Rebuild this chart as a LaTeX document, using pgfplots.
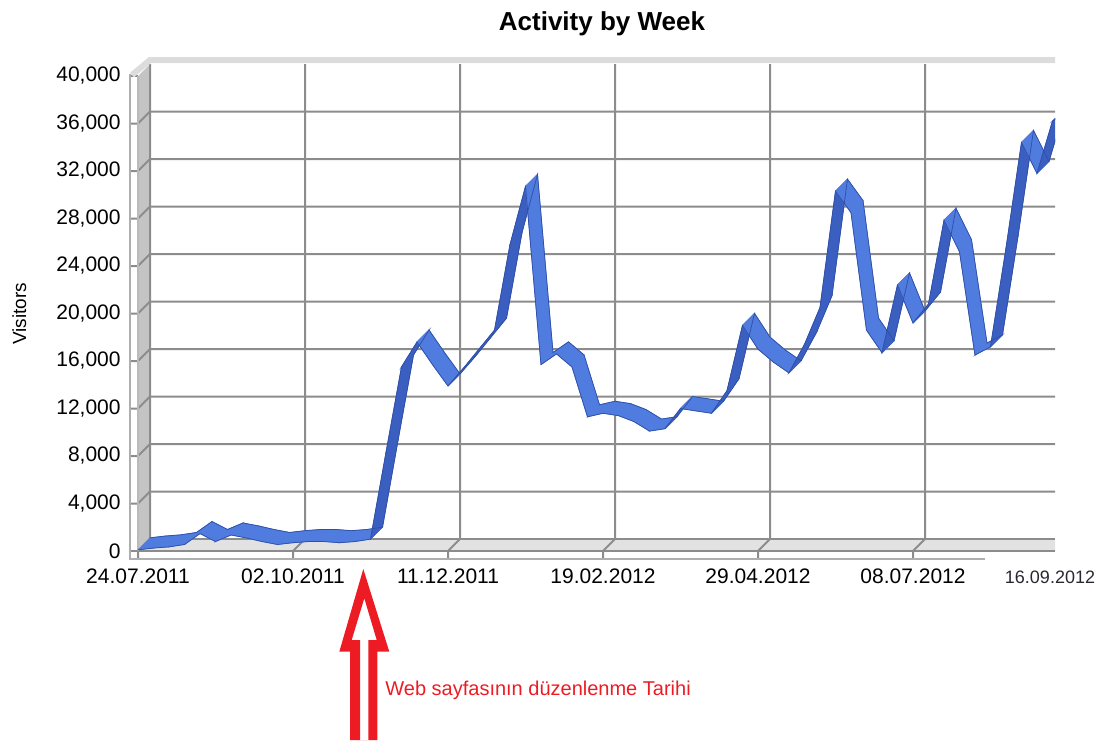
\documentclass[border=0pt]{standalone}
\usepackage{fontspec}
\setmainfont{Liberation Sans}
\usepackage{pgfplots}
\pgfplotsset{compat=1.18}
\usepackage{pgfplotstable}
\definecolor{ribL}{RGB}{79,124,222}
\definecolor{ribD}{RGB}{58,95,192}
\definecolor{ribE}{RGB}{48,78,165}
\definecolor{gridc}{RGB}{140,140,140}
\definecolor{wallc}{RGB}{196,196,196}
\definecolor{floorc}{RGB}{226,226,226}
\definecolor{bandc}{RGB}{220,220,220}
\definecolor{arrowred}{RGB}{237,28,36}

% week index (0 = 24.07.2011), weekly visitors, c = 1 for faces seen from below (steep rise)
\pgfplotstableread{
w v c
0 100 0
1 250 0
2 350 0
3 550 0
4 1470 0
5 800 0
6 1350 0
7 1100 0
8 800 0
9 550 0
10 700 0
11 800 0
12 800 0
13 700 0
14 800 0
15 1000 1
16 8300 1
17 15500 1
18 17600 0
19 15700 0
20 13900 1
21 15400 1
22 17000 1
23 18600 1
24 25800 1
25 30700 0
26 15700 0
27 16600 0
28 15500 0
29 11300 0
30 11600 0
31 11400 0
32 10900 0
33 10100 0
34 10300 1
35 12000 0
36 11800 0
37 11600 1
38 13500 1
39 19000 0
40 17000 0
41 15900 0
42 15000 1
43 17400 1
44 20500 1
45 30300 0
46 28500 0
47 18600 0
48 16700 1
49 22400 0
50 19200 1
51 20800 1
52 27850 0
53 25200 0
54 16500 0
55 17200 1
56 25500 1
57 34400 0
58 31800 1
59 36200 1
60 37000 0
}\visits
\pgfplotstablevertcat{\ribbon}{\visits}
\pgfplotstablevertcat{\ribbon}{\visits}

\begin{document}
\begin{tikzpicture}
\begin{scope}[x=0.5pt,y=-0.5pt]
\useasboundingbox (0,0) rectangle (1104,729);
% floor and left wall
\fill[floorc] (138,551) -- (150,539) -- (1055,539) -- (1055,551) -- cycle;
\fill[wallc] (138,551) -- (150,539) -- (150,64) -- (138,76) -- cycle;
% horizontal grid on the wall
\foreach \k in {1,...,9} {
  \pgfmathsetmacro\yf{551-47.5*\k}
  \pgfmathsetmacro\yb{539-47.5*\k}
  \draw[gridc, line width=1pt] (130,\yf) -- (138,\yf) -- (150,\yb) -- (1055,\yb);
}
\draw[gridc, line width=1pt] (130,76) -- (138,76);
\draw[gridc, line width=1pt] (130,551) -- (1055,551);
\draw[gridc, line width=0.8pt] (150,539) -- (1055,539);
% vertical grid
\foreach \j in {0,...,5} {
  \pgfmathsetmacro\xf{138+155*\j}
  \pgfmathsetmacro\xb{150+155*\j}
  \draw[gridc, line width=1pt] (\xf,559) -- (\xf,551) -- (\xb,539) -- (\xb,64);
}
% top band
\draw[bandc, line width=3pt] (132,75) -- (150,60) -- (1055,60);
% axis lines
\draw[gridc!70, line width=1pt] (130,74) -- (130,559) -- (985,559);
\draw[gridc!60, line width=0.6pt] (138,76) -- (138,551);
\end{scope}

\begin{axis}[
  at={(65pt,-279.5pt)}, anchor=south west,
  scale only axis, width=462.5pt, height=251pt,
  xmin=-0.516129, xmax=59.16129,
  ymin=-673.68, ymax=41600,
  axis line style={draw=none},
  xtick style={draw=none}, ytick style={draw=none},
  major tick length=0pt,
  xtick={0,10,20,30,40,50},
  xticklabels={24.07.2011,02.10.2011,11.12.2011,19.02.2012,29.04.2012,08.07.2012},
  ytick={0,4000,...,40000},
  scaled y ticks=false,
  /pgf/number format/1000 sep={,},
  /pgf/number format/assume math mode=true,
  xticklabel style={font=\fontsize{10.5}{12}\selectfont, anchor=north, inner sep=0pt, yshift=-4.5pt},
  yticklabel style={font=\fontsize{10.5}{12}\selectfont, anchor=east, inner sep=0pt, xshift=-4.5pt},
  colormap={rib}{color(0cm)=(ribL) color(1cm)=(ribD)},
  point meta min=0, point meta max=1,
  clip=true,
]
\addplot[surf, shader=flat corner, mesh/cols=61, point meta=\thisrow{c}]
  table[x expr={\thisrow{w}+0.774194*(\coordindex>60)},
        y expr={\thisrow{v}+1010.526*(\coordindex>60)}] {\ribbon};
\addplot[ribE, line width=0.35pt, forget plot] table[x=w, y=v] {\visits};
\addplot[ribE, line width=0.35pt, forget plot]
  table[x expr={\thisrow{w}+0.774194}, y expr={\thisrow{v}+1010.526}] {\visits};
\end{axis}

\begin{scope}[x=0.5pt,y=-0.5pt]
\node[font=\bfseries\fontsize{13}{15}\selectfont, anchor=base] at (602,30) {Activity by Week};
\node[rotate=90, anchor=base, font=\fontsize{9.5}{11}\selectfont] at (26,314) {Visitors};
\node[anchor=base, font=\fontsize{9}{11}\selectfont, text={rgb,255:red,40;green,40;blue,50}] at (1050,583) {16.09.2012};
\node[anchor=base west, text=arrowred, font=\fontsize{10}{12}\selectfont, inner sep=0pt] at (385,695) {Web sayfasının düzenlenme Tarihi};
\fill[arrowred, even odd rule]
  (363.3,569) -- (339.3,651.7) -- (350,651.7) -- (350,740) -- (377.3,740) -- (377.3,651.7) -- (389.3,651.7) -- cycle
  (364.3,598.3) -- (351.7,640) -- (360,640) -- (360,740) -- (368.3,740) -- (368.3,640) -- (376.7,640) -- cycle;
\end{scope}
\end{tikzpicture}
\end{document}
